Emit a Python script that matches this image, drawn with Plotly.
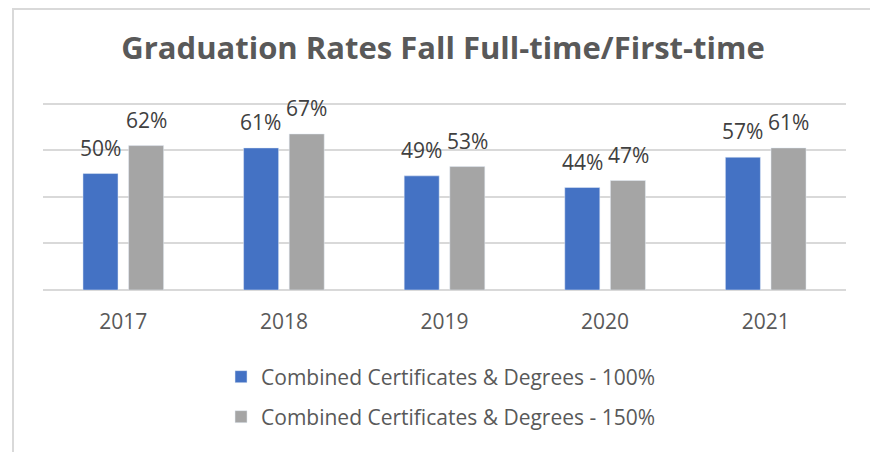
import plotly.graph_objects as go

years = ["2017", "2018", "2019", "2020", "2021"]
series_names = ["Combined Certificates & Degrees - 100%", "Combined Certificates & Degrees - 150%"]
rate_100 = [50, 61, 49, 44, 57]
rate_150 = [62, 67, 53, 47, 61]
colors = ["#4472C4", "#A5A5A5"]

FONT = "Open Sans"
fig = go.Figure()
legend_ids = ["legend", "legend2"]
for i, (name, vals) in enumerate(zip(series_names, [rate_100, rate_150])):
    fig.add_trace(go.Bar(
        x=years, y=vals, name=name, marker_color=colors[i],
        legend=legend_ids[i],
    ))

# data labels anchored to each bar's value (category index on the category axis)
for i, vals in enumerate([rate_100, rate_150]):
    shift = -23 if i == 0 else 23
    for k, v in enumerate(vals):
        fig.add_annotation(x=k, y=v, xref="x", yref="y", text=f"{v}%",
                           showarrow=False, xshift=shift, yshift=10,
                           yanchor="bottom",
                           font=dict(family=FONT, size=21, color="#404040"))

PLOT_TOP, PLOT_BOTTOM = 91, 282
PH = PLOT_BOTTOM - PLOT_TOP

leg_common = dict(orientation="v", xanchor="left", yanchor="middle", x=0.2217,
                  font=dict(family=FONT, size=21, color="#595959"),
                  bgcolor="rgba(0,0,0,0)")

fig.update_layout(
    width=870, height=444,
    margin=dict(l=35, r=32, t=PLOT_TOP, b=444 - PLOT_BOTTOM),
    paper_bgcolor="white", plot_bgcolor="white",
    barmode="group", bargap=0.432, bargroupgap=0.232,
    title=dict(text="<b>Graduation Rates Fall Full-time/First-time</b>",
               x=0.5, xanchor="center", y=0.91, yanchor="middle",
               font=dict(family=FONT, size=31, color="#595959")),
    font=dict(family=FONT, color="#595959"),
    showlegend=True,
    legend=dict(y=(PLOT_BOTTOM - 369) / PH, **leg_common),
    legend2=dict(y=(PLOT_BOTTOM - 409) / PH, **leg_common),
    xaxis=dict(type="category", showgrid=False, showline=False, zeroline=False,
               range=[-0.5, len(years) - 0.5],
               ticks="outside", ticklen=13, tickcolor="rgba(0,0,0,0)",
               tickfont=dict(family=FONT, size=21, color="#595959")),
    yaxis=dict(range=[0, 82], tickvals=[0, 20, 40, 60, 80], showgrid=True,
               gridcolor="#D9D9D9", gridwidth=2, zeroline=True,
               zerolinecolor="#D9D9D9", zerolinewidth=2,
               showticklabels=False, showline=False),
)
fig.add_shape(type="rect", xref="paper", yref="paper",
              x0=(5 - 35) / 803, x1=(866 - 35) / 803,
              y0=(PLOT_BOTTOM - 460) / PH, y1=(PLOT_BOTTOM - 1) / PH,
              line=dict(color="#D9D9D9", width=2), layer="below")
fig.write_html("out.html")
